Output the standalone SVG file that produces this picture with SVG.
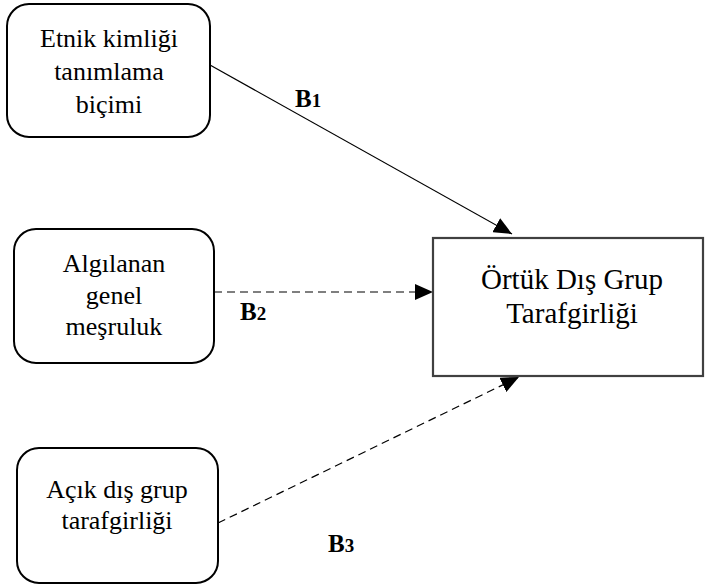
<svg xmlns="http://www.w3.org/2000/svg" width="706" height="588" viewBox="0 0 706 588">
<style>
.box{fill:#fff;stroke:#000;stroke-width:2}
.tbox{fill:#fff;stroke:#404040;stroke-width:2.2}
text{font-family:'Liberation Serif','Times New Roman',serif;fill:#000}
.t{font-size:26px;text-anchor:middle}
.tt{font-size:29px;text-anchor:middle}
.b{font-size:25px;font-weight:bold}
.sub{font-size:19px}
.ln{stroke:#000;stroke-width:1.2;fill:none}
.dash{stroke-dasharray:8,5}
</style>
<defs>
<marker id="ah" markerUnits="userSpaceOnUse" markerWidth="20" markerHeight="16" viewBox="0 0 20 16" refX="18" refY="8" orient="auto">
<path d="M0,0 L18,8 L0,16 Z" fill="#000"/>
</marker>
</defs>
<g id="connectors">
<line class="ln" x1="210" y1="65" x2="512" y2="234" marker-end="url(#ah)"/>
<line class="ln dash" x1="214" y1="292" x2="433" y2="292" marker-end="url(#ah)"/>
<line class="ln dash" x1="218" y1="523" x2="519" y2="377" marker-end="url(#ah)"/>
</g>
<g id="node1">
<rect class="box" x="7" y="4" width="203" height="133" rx="22"/>
<text class="t" x="109" y="47">Etnik kimliği</text>
<text class="t" x="109" y="80">tanımlama</text>
<text class="t" x="109" y="113">biçimi</text>
</g>
<g id="node2">
<rect class="box" x="14" y="229" width="200" height="134" rx="22"/>
<text class="t" x="114" y="272">Algılanan</text>
<text class="t" x="114" y="304">genel</text>
<text class="t" x="114" y="335">meşruluk</text>
</g>
<g id="node3">
<rect class="box" x="17" y="448" width="201" height="135" rx="22"/>
<text class="t" x="117" y="498">Açık dış grup</text>
<text class="t" x="117" y="529">tarafgirliği</text>
</g>
<g id="target">
<rect class="tbox" x="433" y="238" width="270" height="138"/>
<text class="tt" x="572" y="289">Örtük Dış Grup</text>
<text class="tt" x="572" y="323">Tarafgirliği</text>
</g>
<g id="labels">
<text class="b" x="295" y="107">B<tspan class="sub">1</tspan></text>
<text class="b" x="240" y="320">B<tspan class="sub">2</tspan></text>
<text class="b" x="328" y="552">B<tspan class="sub">3</tspan></text>
</g>
</svg>
